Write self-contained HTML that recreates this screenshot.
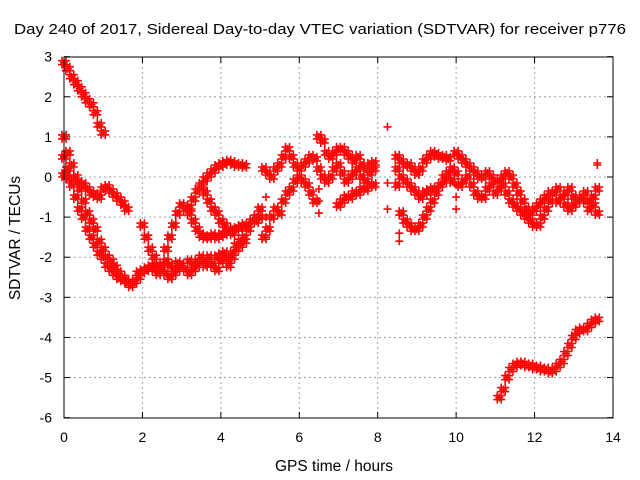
<!DOCTYPE html>
<html><head><meta charset="utf-8"><style>
body{margin:0;background:#fff}
svg{display:block;font-family:"Liberation Sans",sans-serif}
</style></head><body>
<svg id="chart" width="640" height="480">
<text x="320" y="34" text-anchor="middle" font-size="14.5" textLength="612" lengthAdjust="spacingAndGlyphs">Day 240 of 2017, Sidereal Day-to-day VTEC variation (SDTVAR) for receiver p776</text>
<text x="334" y="471" text-anchor="middle" font-size="15.5">GPS time / hours</text>
<text transform="translate(20,238) rotate(-90)" text-anchor="middle" font-size="15.5">SDTVAR / TECUs</text>
<g id="grid"></g><g id="ticks"></g><g id="marks"></g>
<rect x="64" y="57" width="549" height="361" fill="none" stroke="#000" stroke-width="1"/>
</svg>
<script>
const xTicks=[0,2,4,6,8,10,12,14];
const yTicks=[3,2,1,0,-1,-2,-3,-4,-5,-6];
// tracks: start hour, then values every 0.1 h
const trackStarts=[0,0,0,0,1.9,2.3,2.0,2.6,3.2,3.5,4.2,5.1,5.1,6.5,6.5,7.0,8.5,8.5,8.5,10.0,10.0,11.1];
const trackA=[2.85,2.7,2.5,2.35,2.2,2.05,1.9,1.8,1.6,1.3,1.1];
const trackB=[1.0,0.6,0.3,0.0,-0.3,-0.6,-0.9,-1.1,-1.3,-1.6,-1.8,-2.0,-2.1,-2.25,-2.4,-2.5,-2.6,-2.65,-2.6];
const trackC=[0.5,0.2,-0.2,-0.5,-0.8,-1.0,-1.3,-1.5,-1.7,-1.9,-2.0,-2.2,-2.3,-2.4,-2.5,-2.55,-2.6,-2.7,-2.6,-2.5];
const trackD=[0.05,0.0,-0.05,-0.1,-0.15,-0.2,-0.3,-0.4,-0.45,-0.5,-0.3,-0.25,-0.35,-0.45,-0.55,-0.65,-0.8];
const trackE=[-2.4,-2.35,-2.3,-2.25,-2.2,-2.3,-2.2,-2.1,-2.2,-2.3,-2.15,-2.2,-2.3,-2.1,-2.2,-2.1,-2.0,-2.1,-2.15,-2.2,-2.0,-1.95,-2.0,-2.1,-2.0,-1.8,-1.7,-1.6];
const trackF=[-2.3,-2.4,-2.3,-2.4,-2.5,-2.4,-2.3,-2.2,-2.3,-2.4,-2.3,-2.2,-2.1,-2.2,-2.0,-2.2,-2.3,-2.1,-1.9,-2.0,-1.9,-1.7,-1.6,-1.5];
const trackG=[-1.2,-1.5,-1.8,-2.0,-2.2];
const trackH=[-1.8,-1.5,-1.2,-0.9,-0.7,-0.8,-0.75,-0.55,-0.35,-0.2,-0.05,0.05,0.15,0.25,0.3,0.35,0.38,0.35,0.3,0.3,0.28];
const trackI=[-0.9,-1.1,-1.3,-1.45,-1.5,-1.5,-1.45,-1.5,-1.45,-1.4,-1.35,-1.3,-1.3,-1.25,-1.2,-1.2,-1.1,-1.1,-1.0];
const trackJ=[-0.25,-0.4,-0.6,-0.8,-0.9,-1.1,-1.2,-1.35,-1.4];
const trackK=[-2.2,-2.0,-1.8,-1.6,-1.5,-1.3,-1.1,-1.0,-0.8];
const trackL=[0.2,0.1,0.0,0.2,0.3,0.5,0.7,0.5,0.3,0.2,0.3,0.4,0.5,0.45];
const trackM=[-1.5,-1.3,-1.0,-0.8,-0.9,-0.6,-0.4,-0.3,-0.1,0.0,-0.1,-0.2,-0.4,-0.6];
const trackN1=[1.0,0.9,0.6,0.5,0.6,0.7,0.7,0.6,0.5,0.4,0.5,0.3,0.2,0.3,0.35];
const trackN2=[0.2,0.0,-0.1,0.0,0.2,0.3,0.1,-0.1,0.0,0.1,0.2,0.0,-0.1,0.1,0.2];
const trackN3=[-0.7,-0.6,-0.5,-0.5,-0.4,-0.4,-0.3,-0.3,-0.2,-0.2];
const trackO1=[0.5,0.4,0.3,0.3,0.2,0.1,0.2,0.4,0.5,0.6,0.55,0.5,0.5,0.45];
const trackO2=[-0.2,-0.9,-1.1,-1.2,-1.3,-1.3,-1.2,-1.0,-0.8,-0.6,-0.4,-0.2,0.0,0.1,0.2];
const trackO3=[0.2,0.0,-0.1,-0.2,-0.3,-0.4,-0.5,-0.4,-0.35,-0.3,-0.3,-0.2,-0.1,0.0,-0.1];
const trackP1=[0.6,0.5,0.4,0.3,0.2,0.1,0.0,0.0,0.1,0.0,-0.1,-0.1,0.0,0.1,0.0,-0.2,-0.4,-0.6,-0.8,-0.9,-0.8,-0.7,-0.6,-0.5,-0.4,-0.4,-0.6,-0.5,-0.4,-0.3,-0.5,-0.6,-0.5,-0.4,-0.6,-0.7,-0.9];
const trackP2=[0.1,-0.2,-0.1,0.0,-0.2,-0.4,-0.5,-0.5,-0.3,-0.2,-0.4,-0.3,-0.2,-0.4,-0.6,-0.7,-0.8,-0.9,-1.0,-1.1,-1.2,-1.2,-1.0,-0.8,-0.6,-0.4,-0.3,-0.5,-0.7,-0.8,-0.7,-0.6,-0.5,-0.6,-0.8,-0.5,-0.3];
const trackQ=[-5.5,-5.3,-5.0,-4.8,-4.7,-4.65,-4.65,-4.7,-4.7,-4.75,-4.75,-4.8,-4.8,-4.85,-4.8,-4.7,-4.6,-4.4,-4.2,-4.0,-3.85,-3.8,-3.8,-3.7,-3.6,-3.55];
const extraT=[8.25,8.25,8.25,13.6,13.6,6.5,6.5,6.5,5.15,5.15,5.15,8.55,8.55,10.0,10.0,10.0];
const extraV=[1.25,-0.15,-0.8,0.35,0.3,-0.3,-0.6,-0.9,-0.5,-1.0,-1.5,-1.4,-1.6,-0.2,-0.5,-0.8];

const tracks=[trackA,trackB,trackC,trackD,trackE,trackF,trackG,trackH,trackI,trackJ,trackK,trackL,trackM,trackN1,trackN2,trackN3,trackO1,trackO2,trackO3,trackP1,trackP2,trackQ];
const NS='http://www.w3.org/2000/svg';
const X=t=>64+t*549/14;
const Y=v=>177-v*361/9;
function mk(tag,at,parent){const e=document.createElementNS(NS,tag);for(const k in at)e.setAttribute(k,at[k]);parent.appendChild(e);return e;}
const grid=document.getElementById('grid'),ticks=document.getElementById('ticks'),marks=document.getElementById('marks');
xTicks.forEach(t=>{
  const x=X(t);
  if(t>0&&t<14){const g=mk('line',{x1:x,x2:x,y1:57,y2:418,stroke:'#a0a0a0','stroke-dasharray':'2,3'},grid);
  
  }
  mk('line',{x1:x,x2:x,y1:418,y2:412,stroke:'#000'},ticks);
  mk('line',{x1:x,x2:x,y1:57,y2:63,stroke:'#000'},ticks);
  const l=mk('text',{x:x,y:442,'text-anchor':'middle','font-size':'14'},ticks);
  l.textContent=t;
  
  
});
yTicks.forEach(v=>{
  const y=Y(v);
  if(v<3&&v>-6){const g=mk('line',{x1:64,x2:613,y1:y,y2:y,stroke:'#a0a0a0','stroke-dasharray':'2,3'},grid);
  
  }
  mk('line',{x1:64,x2:70,y1:y,y2:y,stroke:'#000'},ticks);
  mk('line',{x1:613,x2:607,y1:y,y2:y,stroke:'#000'},ticks);
  const l=mk('text',{x:52,y:y+5,'text-anchor':'end','font-size':'14'},ticks);
  l.textContent=v;
  
  
});
let d='';
// marker cluster offsets (pixel styling to emulate dense sampling)
const offs=[[0,0],[-2,-2],[2,2],[-2,2],[2,-2]];
function plus(t,v,cluster){const x0=X(t),y0=Y(v);(cluster?offs:[[0,0]]).forEach(o=>{const x=x0+o[0],y=y0+o[1];d+=`M${(x-4).toFixed(1)} ${y.toFixed(1)}h8M${x.toFixed(1)} ${(y-4).toFixed(1)}v8`;});}
tracks.forEach((vals,i)=>{vals.forEach((v,j)=>plus(trackStarts[i]+j*0.1,v,true));});
extraT.forEach((t,i)=>plus(t,extraV[i],false));
const p=mk('path',{d:d,stroke:'#ff0000','stroke-width':'1.6',fill:'none'},marks);


</script>
</body></html>
